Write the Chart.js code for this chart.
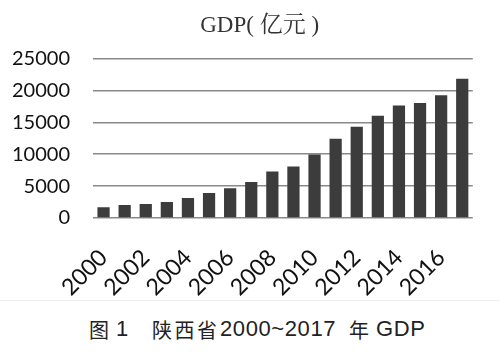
<!DOCTYPE html>
<html>
<head>
<meta charset="utf-8">
<script src="https://cdn.jsdelivr.net/npm/chart.js@4.4.0/dist/chart.umd.min.js"></script>
<style>
html,body{margin:0;padding:0;background:#fff;}
#wrap{position:relative;width:500px;height:355px;}
#box{position:absolute;left:0;top:0;width:500px;height:300px;}
#cap span{position:absolute;top:318px;line-height:22px;white-space:nowrap;font-family:"Liberation Sans","Noto Sans CJK SC",sans-serif;font-size:22px;letter-spacing:0.6px;color:#222;}
#cap span.cj{font-family:"Noto Sans CJK SC",sans-serif;font-size:20px;letter-spacing:2.5px;top:319px;}
#line{position:absolute;left:0;top:300px;width:500px;height:1px;background:#eee;}
</style>
</head>
<body>
<div id="wrap">
<div id="box"><canvas id="c"></canvas></div>
<div id="line"></div>
<div id="cap"><span class="cj" style="left:89px">图</span><span style="left:116px">1</span><span class="cj" style="left:152px">陕西省</span><span style="left:220px">2000~2017</span><span class="cj" style="left:349px">年</span><span style="left:376px">GDP</span></div>
</div>
<script>
const years = ["2000","2001","2002","2003","2004","2005","2006","2007","2008","2009","2010","2011","2012","2013","2014","2015","2016","2017"];
const gdp = [1700,2040,2200,2520,3150,3930,4650,5660,7280,8060,9950,12420,14300,16030,17650,18020,19270,21850];
const yTicks = [0,5000,10000,15000,20000,25000];

new Chart(document.getElementById('c'), {
  type: 'bar',
  data: {
    labels: years,
    datasets: [{
      data: gdp,
      backgroundColor: '#3c3c3c',
      barPercentage: 0.58,
      categoryPercentage: 1.0
    }]
  },
  options: {
    responsive: true,
    maintainAspectRatio: false,
    animation: false,
    layout: {padding: {left: 11, right: 9, top: 0, bottom: 0}},
    plugins: {
      legend: {display: false},
      tooltip: {enabled: false},
      title: {
        display: true,
        text: '   GDP( 亿元 )',
        color: '#333',
        font: {family: '"Liberation Serif","Noto Serif CJK SC","Noto Sans CJK SC",serif', size: 23, weight: 'normal'},
        padding: {top: 12, bottom: 19}
      }
    },
    scales: {
      x: {
        grid: {display: false},
        border: {display: false},
        afterFit: function(scale) { scale.paddingLeft = 0; scale.height = 82; },
        ticks: {
          autoSkip: false,
          maxRotation: 45,
          minRotation: 45,
          color: '#111',
          padding: 18,
          font: {family: 'Lato, "Open Sans", sans-serif', size: 23},
          callback: function(v, i) { return i % 2 === 0 ? years[i] : ''; }
        }
      },
      y: {
        min: 0,
        max: 25000,
        afterBuildTicks: function(axis) { axis.ticks = yTicks.map(v => ({value: v})); },
        afterFit: function(scale) { scale.width = 82; },
        grid: {color: '#8a8a8a', lineWidth: 1.5, drawTicks: false},
        border: {display: false},
        ticks: {
          color: '#111',
          padding: 23,
          font: {family: 'Lato, "Open Sans", sans-serif', size: 20},
          callback: function(v) { return String(v); }
        }
      }
    }
  }
});
</script>
</body>
</html>
